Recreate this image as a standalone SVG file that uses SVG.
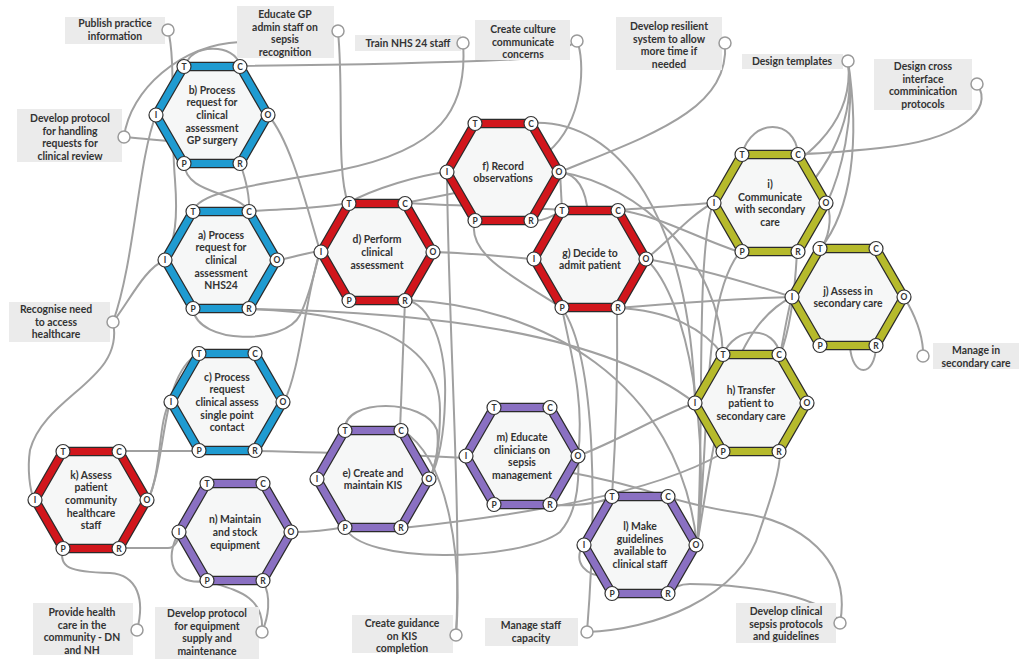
<svg xmlns="http://www.w3.org/2000/svg" xmlns:xlink="http://www.w3.org/1999/xlink" width="1019" height="659" viewBox="0 0 1019 659">
<style>
.conn path{fill:none;stroke:#a0a0a0;stroke-width:2}
.hexedge{fill:#f6f7f7;stroke:#2b2b2b;stroke-width:9.5;stroke-linejoin:miter}
.band{fill:none;stroke-width:7}
.blue{stroke:#1f9bd1}.red{stroke:#d1161c}.olive{stroke:#b6ba2c}.purple{stroke:#8a70c2}
.pc{fill:#fff;stroke:#333;stroke-width:1.2}
.pl{font-family:Lato,"DejaVu Sans",sans-serif;font-size:8.5px;font-weight:700;fill:#333;text-anchor:middle}
.lbl{font-family:Lato,"Open Sans",sans-serif;font-size:10.4px;font-weight:700;fill:#333;text-anchor:middle}
.box{fill:#ebebeb}
.bc{fill:#fff;stroke:#9a9a9a;stroke-width:1.5}
</style>
<defs>
<polygon id="hx" points="-56,0 -28,-48.5 28,-48.5 56,0 28,48.5 -28,48.5"/>
<g id="ports">
<circle class="pc" cx="-28" cy="-48.5" r="7"/><text class="pl" x="-28" y="-45.5">T</text>
<circle class="pc" cx="28" cy="-48.5" r="7"/><text class="pl" x="28" y="-45.5">C</text>
<circle class="pc" cx="-56" cy="0" r="7"/><text class="pl" x="-56" y="3">I</text>
<circle class="pc" cx="56" cy="0" r="7"/><text class="pl" x="56" y="3">O</text>
<circle class="pc" cx="-28" cy="48.5" r="7"/><text class="pl" x="-28" y="51.5">P</text>
<circle class="pc" cx="28" cy="48.5" r="7"/><text class="pl" x="28" y="51.5">R</text>
</g>
</defs>
<rect width="1019" height="659" fill="#ffffff"/>
<g id="connectors" class="conn">
<path d="M168,30 C176,60 170,120 175,180 C178,220 175,240 165,260"/>
<path d="M463,43 C468,110 440,150 340,170 C260,185 200,190 193,211"/>
<path d="M338,32 C344,90 336,170 348,203"/>
<path d="M124,137 C130,90 180,45 240,42 C290,40 320,36 338,32"/>
<path d="M124,137 C145,139 160,140 176,142"/>
<path d="M186,66 C188,44 236,42 240,66"/>
<path d="M240,66 C350,65 470,62 540,58 C555,55 565,48 577,41"/>
<path d="M577,41 C585,60 585,120 548,152"/>
<path d="M156,115 C138,160 135,260 113,322"/>
<path d="M268,115 C290,140 305,200 320,251"/>
<path d="M184,163 C186,195 235,190 249,211"/>
<path d="M240,163 C246,180 250,195 249,211"/>
<path d="M249,211 C290,209 320,208 348,203"/>
<path d="M278,260 C295,257 305,253 320,251"/>
<path d="M113,322 C130,300 145,268 165,260"/>
<path d="M113,322 C125,380 45,395 30,450 C27,470 30,490 34,500"/>
<path d="M193,309 C198,345 285,345 300,315 C310,295 315,270 320,251"/>
<path d="M249,309 C420,312 600,330 695,403"/>
<path d="M249,309 C340,312 440,330 440,410 C440,450 435,465 430,479"/>
<path d="M284,402 C300,370 305,300 320,251"/>
<path d="M119,451 L199,451"/>
<path d="M255,451 C350,453 430,456 465,458 C520,462 600,475 667,497"/>
<path d="M148,500 C162,470 158,420 170,402"/>
<path d="M148,500 C168,455 160,375 199,353"/>
<path d="M119,548 L168,548 C175,548 179,540 179,532"/>
<path d="M63,548 C58,568 70,572 110,573 C138,575 145,600 137,630"/>
<path d="M179,532 C165,558 170,586 207,581"/>
<path d="M207,581 C235,590 265,595 262,632"/>
<path d="M263,581 C272,598 268,618 262,632"/>
<path d="M292,532 C312,532 330,530 345,527"/>
<path d="M348,203 C375,188 420,175 447,172"/>
<path d="M405,203 C420,200 440,196 460,192"/>
<path d="M405,203 C460,206 520,207 562,210"/>
<path d="M433,252 C470,253 500,256 533,259"/>
<path d="M405,300 C403,350 401,400 400,430"/>
<path d="M405,300 C430,303 447,345 445,400 C444,440 437,465 430,479"/>
<path d="M405,300 C540,305 680,380 697,545"/>
<path d="M345,430 C343,398 425,398 437,430 C440,450 434,468 430,479"/>
<path d="M456,635 C462,560 450,460 402,430"/>
<path d="M456,635 C462,520 448,320 447,172"/>
<path d="M345,527 C360,565 520,562 560,532 C575,515 580,490 578,456"/>
<path d="M402,528 C520,515 650,495 723,453"/>
<path d="M578,456 C620,440 660,415 695,403"/>
<path d="M578,456 C585,400 570,350 562,308"/>
<path d="M617,308 C618,380 615,450 612,497"/>
<path d="M550,505 C575,506 598,504 612,497"/>
<path d="M583,545 C573,562 585,578 610,576"/>
<path d="M587,632 C650,630 740,600 760,530 C772,495 780,470 780,453"/>
<path d="M587,632 C596,520 598,360 562,308"/>
<path d="M840,623 C852,560 800,520 740,513 C705,508 685,502 667,497"/>
<path d="M840,623 C825,598 760,585 690,584 C680,584 672,588 667,594"/>
<path d="M697,545 C710,450 700,300 740,252"/>
<path d="M697,545 C715,440 725,330 792,297"/>
<path d="M697,545 C710,440 690,300 646,259"/>
<path d="M697,545 C705,430 695,260 713,203"/>
<path d="M560,172 L562,210"/>
<path d="M560,172 C576,174 586,186 588,215"/>
<path d="M560,172 C640,185 720,260 723,355"/>
<path d="M531,123 C620,118 690,220 695,403"/>
<path d="M725,43 C730,110 650,135 560,172"/>
<path d="M475,221 C465,255 520,280 562,308"/>
<path d="M531,221 C542,222 552,217 562,210"/>
<path d="M617,210 C650,208 680,205 713,203"/>
<path d="M617,210 C660,215 700,240 740,252"/>
<path d="M646,259 C670,240 690,215 713,203"/>
<path d="M646,259 C700,268 755,285 792,297"/>
<path d="M617,308 C690,302 740,298 792,297"/>
<path d="M617,308 C670,310 705,330 723,355"/>
<path d="M742,154 C752,118 795,118 798,154"/>
<path d="M977,84 C995,110 960,140 880,148 C840,152 815,154 798,154"/>
<path d="M848,61 C856,120 840,175 827,203"/>
<path d="M848,61 C860,140 852,210 820,249"/>
<path d="M848,61 C855,120 810,170 713,203"/>
<path d="M848,61 C858,130 820,190 740,252"/>
<path d="M827,203 C833,220 828,240 820,249"/>
<path d="M797,252 C795,290 790,330 780,355"/>
<path d="M723,355 C735,325 775,325 780,355"/>
<path d="M780,355 C785,330 788,310 792,297"/>
<path d="M850,346 C852,378 875,378 876,346"/>
<path d="M904,297 C915,315 922,335 923,350"/>
</g>
<g id="box-publish"><rect class="box" x="65" y="17" width="100" height="27"/><text class="lbl"><tspan x="115" y="27">Publish practice</tspan><tspan x="115" y="40">information</tspan></text><circle class="bc" cx="168" cy="30" r="6"/></g>
<g id="box-educate"><rect class="box" x="237" y="6" width="97" height="52"/><text class="lbl"><tspan x="285" y="18">Educate GP</tspan><tspan x="285" y="30.6">admin staff on</tspan><tspan x="285" y="43.2">sepsis</tspan><tspan x="285" y="55.8">recognition</tspan></text><circle class="bc" cx="338" cy="31" r="6"/></g>
<g id="box-train"><rect class="box" x="355" y="35" width="106" height="16"/><text class="lbl" x="408" y="47">Train NHS 24 staff</text><circle class="bc" cx="463" cy="43" r="6"/></g>
<g id="box-culture"><rect class="box" x="475" y="20" width="95" height="40"/><text class="lbl"><tspan x="523" y="33">Create culture</tspan><tspan x="523" y="45.6">communicate</tspan><tspan x="523" y="58.2">concerns</tspan></text><circle class="bc" cx="577" cy="41" r="6"/></g>
<g id="box-resilient"><rect class="box" x="616" y="17" width="106" height="53"/><text class="lbl"><tspan x="669" y="30">Develop resilient</tspan><tspan x="669" y="42.6">system to allow</tspan><tspan x="669" y="55.2">more time if</tspan><tspan x="669" y="67.8">needed</tspan></text><circle class="bc" cx="725" cy="43" r="6"/></g>
<g id="box-templates"><rect class="box" x="742" y="54" width="101" height="15"/><text class="lbl" x="792" y="65">Design templates</text><circle class="bc" cx="848" cy="61" r="6"/></g>
<g id="box-cross"><rect class="box" x="874" y="59" width="98" height="51"/><text class="lbl"><tspan x="923" y="70">Design cross</tspan><tspan x="923" y="82.6">interface</tspan><tspan x="923" y="95.2">comminication</tspan><tspan x="923" y="107.8">protocols</tspan></text><circle class="bc" cx="977" cy="84" r="6"/></g>
<g id="box-handling"><rect class="box" x="17" y="109" width="105" height="53"/><text class="lbl"><tspan x="70" y="122">Develop protocol</tspan><tspan x="70" y="134.6">for handling</tspan><tspan x="70" y="147.2">requests for</tspan><tspan x="70" y="159.8">clinical review</tspan></text><circle class="bc" cx="124" cy="137" r="6"/></g>
<g id="box-recognise"><rect class="box" x="9" y="302" width="101" height="40"/><text class="lbl"><tspan x="56" y="313">Recognise need</tspan><tspan x="56" y="325.6">to access</tspan><tspan x="56" y="338.2">healthcare</tspan></text><circle class="bc" cx="113" cy="322" r="6"/></g>
<g id="box-manage-secondary"><rect class="box" x="933" y="343" width="86" height="26"/><text class="lbl"><tspan x="976" y="354">Manage in</tspan><tspan x="976" y="367">secondary care</tspan></text><circle class="bc" cx="923" cy="356" r="6"/></g>
<g id="box-provide"><rect class="box" x="33" y="603" width="100" height="52"/><text class="lbl"><tspan x="82" y="616">Provide health</tspan><tspan x="82" y="628.6">care in the</tspan><tspan x="82" y="641.2">community - DN</tspan><tspan x="82" y="653.8">and NH</tspan></text><circle class="bc" cx="137" cy="630" r="6"/></g>
<g id="box-equipment"><rect class="box" x="155" y="607" width="104" height="52"/><text class="lbl"><tspan x="207" y="617">Develop protocol</tspan><tspan x="207" y="629.6">for equipment</tspan><tspan x="207" y="642.2">supply and</tspan><tspan x="207" y="654.8">maintenance</tspan></text><circle class="bc" cx="262" cy="632" r="6"/></g>
<g id="box-kis"><rect class="box" x="352" y="615" width="101" height="38"/><text class="lbl"><tspan x="402" y="627">Create guidance</tspan><tspan x="402" y="639.6">on KIS</tspan><tspan x="402" y="652.2">completion</tspan></text><circle class="bc" cx="456" cy="635" r="6"/></g>
<g id="box-staff"><rect class="box" x="485" y="618" width="93" height="28"/><text class="lbl"><tspan x="531" y="629">Manage staff</tspan><tspan x="531" y="642">capacity</tspan></text><circle class="bc" cx="587" cy="632" r="6"/></g>
<g id="box-clinical"><rect class="box" x="736" y="603" width="100" height="40"/><text class="lbl"><tspan x="786" y="615">Develop clinical</tspan><tspan x="786" y="627.6">sepsis protocols</tspan><tspan x="786" y="640.2">and guidelines</tspan></text><circle class="bc" cx="840" cy="623" r="6"/></g>
<g id="node-b" transform="translate(212,115)"><use href="#hx" class="hexedge"/><use href="#hx" class="band blue"/><text class="lbl"><tspan x="0" y="-21.2">b) Process</tspan><tspan x="0" y="-8.6">request for</tspan><tspan x="0" y="4">clinical</tspan><tspan x="0" y="16.6">assessment</tspan><tspan x="0" y="29.2">GP surgery</tspan></text><use href="#ports"/></g>
<g id="node-a" transform="translate(221,260)"><use href="#hx" class="hexedge"/><use href="#hx" class="band blue"/><text class="lbl"><tspan x="0" y="-21.2">a) Process</tspan><tspan x="0" y="-8.6">request for</tspan><tspan x="0" y="4">clinical</tspan><tspan x="0" y="16.6">assessment</tspan><tspan x="0" y="29.2">NHS24</tspan></text><use href="#ports"/></g>
<g id="node-c" transform="translate(227,402)"><use href="#hx" class="hexedge"/><use href="#hx" class="band blue"/><text class="lbl"><tspan x="0" y="-21.2">c) Process</tspan><tspan x="0" y="-8.6">request</tspan><tspan x="0" y="4">clinical assess</tspan><tspan x="0" y="16.6">single point</tspan><tspan x="0" y="29.2">contact</tspan></text><use href="#ports"/></g>
<g id="node-k" transform="translate(91,500)"><use href="#hx" class="hexedge"/><use href="#hx" class="band red"/><text class="lbl"><tspan x="0" y="-21.2">k) Assess</tspan><tspan x="0" y="-8.6">patient</tspan><tspan x="0" y="4">community</tspan><tspan x="0" y="16.6">healthcare</tspan><tspan x="0" y="29.2">staff</tspan></text><use href="#ports"/></g>
<g id="node-n" transform="translate(235,532)"><use href="#hx" class="hexedge"/><use href="#hx" class="band purple"/><text class="lbl"><tspan x="0" y="-8.6">n) Maintain</tspan><tspan x="0" y="4">and stock</tspan><tspan x="0" y="16.6">equipment</tspan></text><use href="#ports"/></g>
<g id="node-d" transform="translate(377,252)"><use href="#hx" class="hexedge"/><use href="#hx" class="band red"/><text class="lbl"><tspan x="0" y="-8.6">d) Perform</tspan><tspan x="0" y="4">clinical</tspan><tspan x="0" y="16.6">assessment</tspan></text><use href="#ports"/></g>
<g id="node-f" transform="translate(503,172)"><use href="#hx" class="hexedge"/><use href="#hx" class="band red"/><text class="lbl"><tspan x="0" y="-2.3">f) Record</tspan><tspan x="0" y="10.3">observations</tspan></text><use href="#ports"/></g>
<g id="node-g" transform="translate(590,259)"><use href="#hx" class="hexedge"/><use href="#hx" class="band red"/><text class="lbl"><tspan x="0" y="-2.3">g) Decide to</tspan><tspan x="0" y="10.3">admit patient</tspan></text><use href="#ports"/></g>
<g id="node-i" transform="translate(770,203)"><use href="#hx" class="hexedge"/><use href="#hx" class="band olive"/><text class="lbl"><tspan x="0" y="-14.9">i)</tspan><tspan x="0" y="-2.3">Communicate</tspan><tspan x="0" y="10.3">with secondary</tspan><tspan x="0" y="22.9">care</tspan></text><use href="#ports"/></g>
<g id="node-j" transform="translate(848,297)"><use href="#hx" class="hexedge"/><use href="#hx" class="band olive"/><text class="lbl"><tspan x="0" y="-2.3">j) Assess in</tspan><tspan x="0" y="10.3">secondary care</tspan></text><use href="#ports"/></g>
<g id="node-h" transform="translate(751,403)"><use href="#hx" class="hexedge"/><use href="#hx" class="band olive"/><text class="lbl"><tspan x="0" y="-8.6">h) Transfer</tspan><tspan x="0" y="4">patient to</tspan><tspan x="0" y="16.6">secondary care</tspan></text><use href="#ports"/></g>
<g id="node-e" transform="translate(373,479)"><use href="#hx" class="hexedge"/><use href="#hx" class="band purple"/><text class="lbl"><tspan x="0" y="-2.3">e) Create and</tspan><tspan x="0" y="10.3">maintain KIS</tspan></text><use href="#ports"/></g>
<g id="node-m" transform="translate(522,456)"><use href="#hx" class="hexedge"/><use href="#hx" class="band purple"/><text class="lbl"><tspan x="0" y="-14.9">m) Educate</tspan><tspan x="0" y="-2.3">clinicians on</tspan><tspan x="0" y="10.3">sepsis</tspan><tspan x="0" y="22.9">management</tspan></text><use href="#ports"/></g>
<g id="node-l" transform="translate(640,545)"><use href="#hx" class="hexedge"/><use href="#hx" class="band purple"/><text class="lbl"><tspan x="0" y="-14.9">l) Make</tspan><tspan x="0" y="-2.3">guidelines</tspan><tspan x="0" y="10.3">available to</tspan><tspan x="0" y="22.9">clinical staff</tspan></text><use href="#ports"/></g>
</svg>
